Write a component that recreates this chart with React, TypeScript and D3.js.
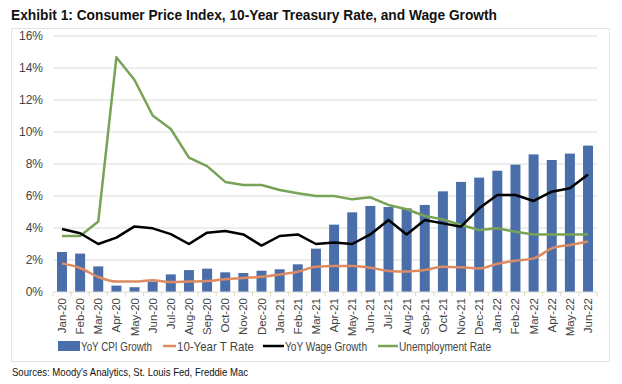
import React from "react";
import * as d3 from "d3";

const months = [
  "Jan-20", "Feb-20", "Mar-20", "Apr-20", "May-20", "Jun-20", "Jul-20", "Aug-20", "Sep-20", "Oct-20",
  "Nov-20", "Dec-20", "Jan-21", "Feb-21", "Mar-21", "Apr-21", "May-21", "Jun-21", "Jul-21", "Aug-21",
  "Sep-21", "Oct-21", "Nov-21", "Dec-21", "Jan-22", "Feb-22", "Mar-22", "Apr-22", "May-22", "Jun-22",
];
const cpi = [2.5, 2.4, 1.6, 0.4, 0.3, 0.65, 1.1, 1.37, 1.46, 1.23, 1.19, 1.33, 1.42, 1.73, 2.71, 4.21, 4.98, 5.38, 5.31, 5.23, 5.44, 6.29, 6.88, 7.15, 7.58, 7.96, 8.6, 8.25, 8.65, 9.15];
const tenYear = [1.79, 1.5, 0.94, 0.65, 0.66, 0.73, 0.62, 0.65, 0.68, 0.8, 0.88, 0.95, 1.1, 1.27, 1.58, 1.63, 1.62, 1.52, 1.32, 1.28, 1.37, 1.58, 1.54, 1.47, 1.76, 1.96, 2.1, 2.73, 2.94, 3.15];
const wage = [3.94, 3.67, 3.0, 3.4, 4.1, 3.98, 3.62, 3.0, 3.71, 3.81, 3.6, 2.9, 3.5, 3.6, 3.0, 3.1, 3.0, 3.6, 4.5, 3.6, 4.5, 4.29, 4.08, 5.23, 6.06, 6.06, 5.69, 6.27, 6.48, 7.35];
const unemployment = [3.5, 3.5, 4.4, 14.67, 13.25, 11.03, 10.19, 8.4, 7.87, 6.88, 6.69, 6.69, 6.38, 6.17, 6.0, 6.0, 5.79, 5.92, 5.44, 5.17, 4.75, 4.54, 4.19, 3.88, 3.98, 3.77, 3.6, 3.6, 3.6, 3.6];
const yTicks = [0, 2, 4, 6, 8, 10, 12, 14, 16];
const legendNames = ["YoY CPI Growth", "10-Year T Rate", "YoY Wage Growth", "Unemployment Rate"];

const font = "'Liberation Sans', Arial, sans-serif";

export default function App() {
  const W = 622, H = 384;
  const left = 53, right = 597, top = 36, bottom = 292;

  const x = d3.scaleBand().domain(months).range([left, right]).paddingInner(0.45).paddingOuter(0.22);
  const y = d3.scaleLinear().domain([0, 16]).range([bottom, top]);
  const cx = (i: number) => (x(months[i]) as number) + x.bandwidth() / 2;

  const straight = d3.line<number>().x((_, i) => cx(i)).y((d) => y(d));
  const smooth = d3.line<number>().x((_, i) => cx(i)).y((d) => y(d)).curve(d3.curveMonotoneX);

  const step = x.step();
  const bounds = d3.range(months.length + 1).map((i) => left + (right - left - step * months.length) / 2 + i * step);

  // legend layout: marker start, marker end, text width
  const legend = [
    { x0: 58, x1: 80, tw: 71, color: "#4a6ea9", bar: true },
    { x0: 163, x1: 176, tw: 77, color: "#de8a62", bar: false },
    { x0: 263, x1: 284, tw: 82, color: "#000", bar: false },
    { x0: 378, x1: 398, tw: 92, color: "#77a356", bar: false },
  ];

  return (
    <svg width={W} height={H} style={{ position: "absolute", left: 0, top: 0 }} fontFamily={font}>
      <rect width={W} height={H} fill="#fff" />
      <text x={11} y={20} fontSize={14.5} fontWeight="bold" fill="#111" textLength={486} lengthAdjust="spacingAndGlyphs">
        Exhibit 1: Consumer Price Index, 10-Year Treasury Rate, and Wage Growth
      </text>
      <rect x={11.5} y={28.5} width={598} height={333} fill="none" stroke="#e3e3e3" />

      {yTicks.map((t) => (
        <g key={t}>
          {t > 0 && <line x1={left} x2={right} y1={y(t)} y2={y(t)} stroke="#dcdcdc" strokeWidth={1} />}
          <text x={43} y={y(t)} dy="0.35em" textAnchor="end" fontSize={12} fill="#444">
            {t}%
          </text>
        </g>
      ))}

      {cpi.map((d, i) => (
        <rect key={i} x={x(months[i])} y={y(d)} width={x.bandwidth()} height={bottom - y(d)} fill="#4a6ea9" />
      ))}

      <line x1={left} x2={right} y1={bottom} y2={bottom} stroke="#d9d9d9" />
      {bounds.map((b, i) => (
        <line key={i} x1={b} x2={b} y1={bottom} y2={bottom + 4} stroke="#e0d9b8" />
      ))}

      <path d={smooth(tenYear) || ""} fill="none" stroke="#de8a62" strokeWidth={2.5} />
      <path d={straight(unemployment) || ""} fill="none" stroke="#77a356" strokeWidth={2.5} strokeLinejoin="round" />
      <path d={straight(wage) || ""} fill="none" stroke="#000" strokeWidth={2.5} strokeLinejoin="round" />

      {months.map((m, i) => (
        <text key={m} transform={`translate(${cx(i) + 4},${bottom + 6}) rotate(-90)`} textAnchor="end" fontSize={11.5} fill="#444">
          {m}
        </text>
      ))}

      <g fontSize={13} fill="#444">
        {legend.map((l, i) => (
          <g key={i}>
            {l.bar ? (
              <rect x={l.x0} y={341} width={l.x1 - l.x0} height={10} fill={l.color} />
            ) : (
              <line x1={l.x0} x2={l.x1} y1={346} y2={346} stroke={l.color} strokeWidth={2.5} />
            )}
            <text x={l.x1 + 1} y={351} textLength={l.tw} lengthAdjust="spacingAndGlyphs">
              {legendNames[i]}
            </text>
          </g>
        ))}
      </g>

      <text x={12} y={376} fontSize={10.5} fill="#111" textLength={236} lengthAdjust="spacingAndGlyphs">
        Sources: Moody's Analytics, St. Louis Fed, Freddie Mac
      </text>
    </svg>
  );
}
